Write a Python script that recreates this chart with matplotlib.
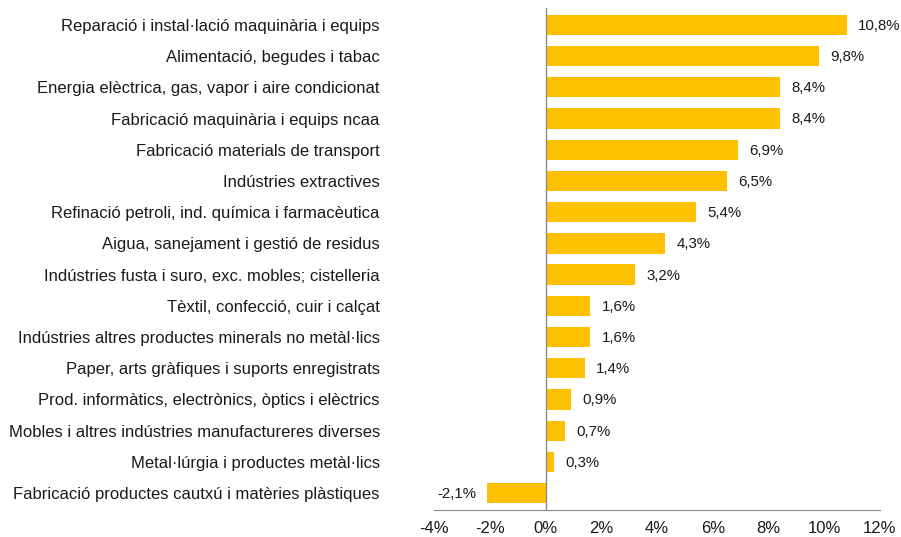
import matplotlib.pyplot as plt
from matplotlib.ticker import FuncFormatter

plt.rcParams['font.family'] = ['Liberation Sans', 'DejaVu Sans']

# Sectors, top to bottom
sectors = [
    'Reparació i instal·lació maquinària i equips',
    'Alimentació, begudes i tabac',
    'Energia elèctrica, gas, vapor i aire condicionat',
    'Fabricació maquinària i equips ncaa',
    'Fabricació materials de transport',
    'Indústries extractives',
    'Refinació petroli, ind. química i farmacèutica',
    'Aigua, sanejament i gestió de residus',
    'Indústries fusta i suro, exc. mobles; cistelleria',
    'Tèxtil, confecció, cuir i calçat',
    'Indústries altres productes minerals no metàl·lics',
    'Paper, arts gràfiques i suports enregistrats',
    'Prod. informàtics, electrònics, òptics i elèctrics',
    'Mobles i altres indústries manufactureres diverses',
    'Metal·lúrgia i productes metàl·lics',
    'Fabricació productes cautxú i matèries plàstiques',
]
values = [10.8, 9.8, 8.4, 8.4, 6.9, 6.5, 5.4, 4.3, 3.2, 1.6, 1.6, 1.4, 0.9, 0.7, 0.3, -2.1]

fig = plt.figure(figsize=(9.01, 5.37), dpi=100)
ax = fig.add_axes([434 / 901, 1 - 510 / 537, (880 - 434) / 901, (510 - 8) / 537])

pos = list(range(len(sectors)))
ax.barh(pos, values, height=0.65, color='#FFC000', zorder=2)
ax.set_ylim(len(sectors) - 0.46, -0.54)
ax.set_xlim(-4, 12)
ax.set_xticks(range(-4, 13, 2))
ax.xaxis.set_major_formatter(FuncFormatter(lambda x, _: f'{x:.0f}%'))
ax.set_yticks(pos)
ax.set_yticklabels(sectors)

ax.tick_params(axis='y', length=0, pad=39, labelsize=12, colors='#1a1a1a')
ax.tick_params(axis='x', length=0, pad=8, labelsize=12, colors='#1a1a1a')

for s in ['top', 'right', 'left']:
    ax.spines[s].set_visible(False)
ax.spines['bottom'].set_color('#8c8c8c')
ax.axvline(0, color='#8c8c8c', linewidth=1, zorder=3)

# value labels
for p, v in zip(pos, values):
    txt = f'{v:.1f}%'.replace('.', ',')
    if v >= 0:
        ax.text(v + 0.42, p + 0.03, txt, va='center', ha='left', fontsize=10.8, color='#1a1a1a')
    else:
        ax.text(v - 0.38, p + 0.03, txt, va='center', ha='right', fontsize=10.8, color='#1a1a1a')

fig.savefig('out.png', dpi=100)
